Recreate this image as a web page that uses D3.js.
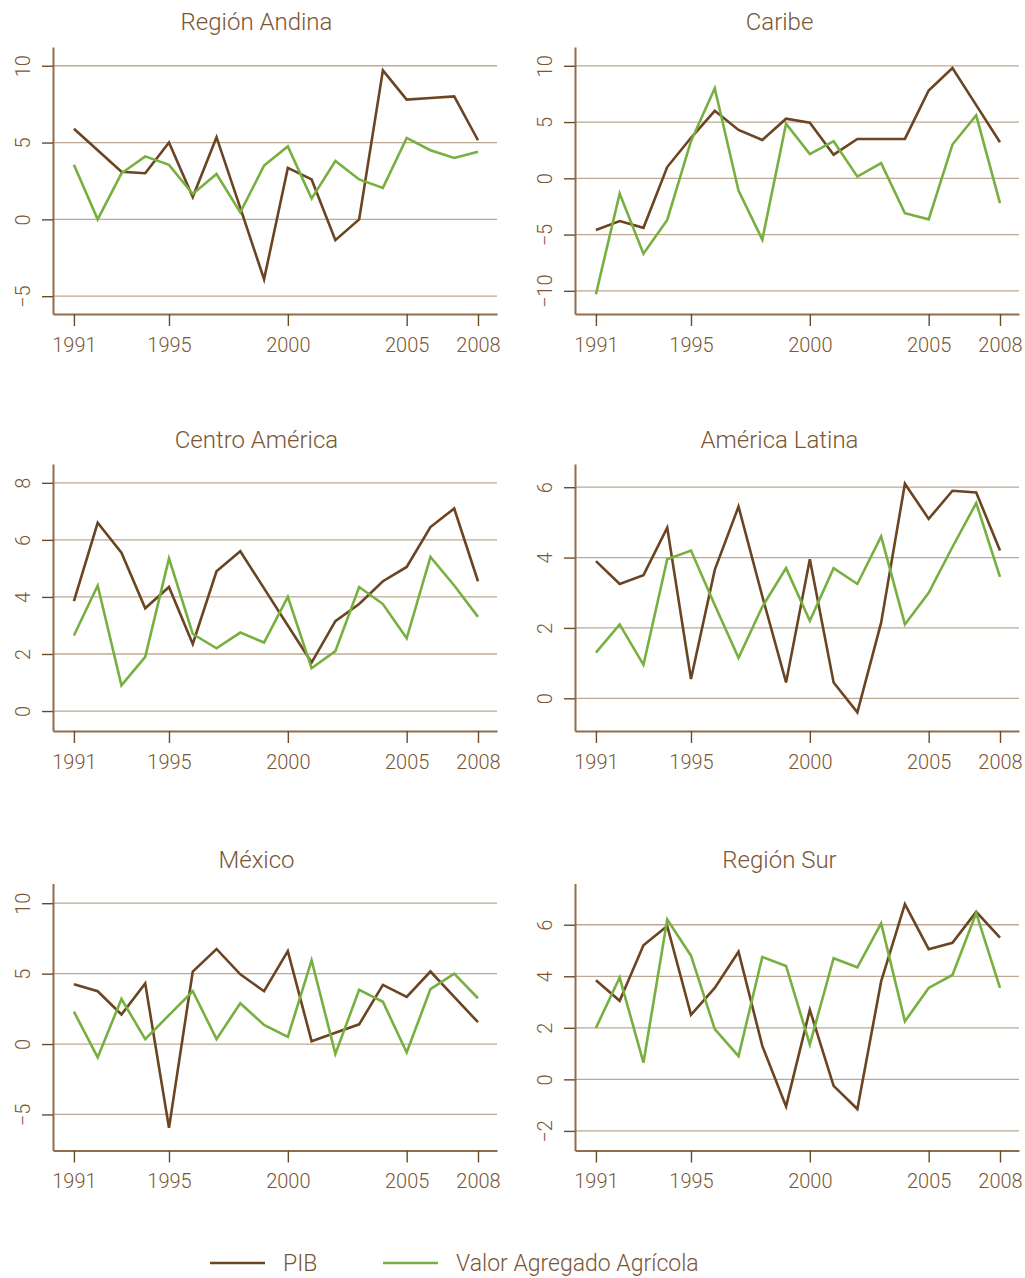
<!DOCTYPE html>
<meta charset="utf-8">
<head>
  <title>PIB y Valor Agregado Agrícola</title>
</head>

<style>
body {
  margin: 0;
  background: #fff;
}

text {
  font-family: Roboto, "Helvetica Neue", Helvetica, sans-serif;
  font-weight: 300;
  fill: #7a5634;
}

.grid {
  stroke: #bca893;
  stroke-width: 1.3px;
}

.line {
  fill: none;
  stroke-width: 2.6px;
  stroke-linejoin: miter;
}
</style>

<body>
  <svg id="chart" width="1025" height="1278"></svg>

<script src="https://cdnjs.cloudflare.com/ajax/libs/d3/7.8.5/d3.min.js"></script>

<script>
// years on the x axis
var years = [1991, 1992, 1993, 1994, 1995, 1996, 1997, 1998, 1999,
             2000, 2001, 2002, 2003, 2004, 2005, 2006, 2007, 2008];
var yearTicks = [1991, 1995, 2000, 2005, 2008];

var seriesNames = ["PIB", "Valor Agregado Agrícola"];
var seriesColors = ["#6b4422", "#77b041"];

// growth rates (%)
var andinaPib = [5.9, 4.5, 3.1, 3.0, 5.0, 1.45, 5.35, 0.75, -3.9, 3.35, 2.6, -1.35, 0.0, 9.7, 7.8, 7.9, 8.0, 5.15];
var andinaAgr = [3.55, 0.0, 3.0, 4.1, 3.55, 1.65, 2.95, 0.45, 3.5, 4.75, 1.35, 3.8, 2.6, 2.05, 5.3, 4.5, 4.0, 4.4];

var caribePib = [-4.6, -3.8, -4.4, 1.0, 3.6, 6.0, 4.3, 3.4, 5.3, 4.95, 2.1, 3.5, 3.5, 3.5, 7.8, 9.8, 6.5, 3.2];
var caribeAgr = [-10.3, -1.35, -6.7, -3.7, 3.3, 8.0, -1.1, -5.45, 4.85, 2.15, 3.3, 0.15, 1.35, -3.1, -3.65, 3.0, 5.6, -2.2];

var centroPib = [3.85, 6.6, 5.55, 3.6, 4.35, 2.35, 4.9, 5.6, 4.3, 3.0, 1.7, 3.15, 3.75, 4.55, 5.05, 6.45, 7.1, 4.55];
var centroAgr = [2.65, 4.4, 0.9, 1.9, 5.35, 2.7, 2.2, 2.75, 2.4, 4.0, 1.5, 2.1, 4.35, 3.75, 2.55, 5.4, 4.4, 3.3];

var latinaPib = [3.9, 3.25, 3.5, 4.85, 0.55, 3.65, 5.45, 2.9, 0.45, 3.95, 0.45, -0.4, 2.15, 6.1, 5.1, 5.9, 5.85, 4.2];
var latinaAgr = [1.3, 2.1, 0.95, 3.95, 4.2, 2.65, 1.15, 2.6, 3.7, 2.2, 3.7, 3.25, 4.6, 2.1, 3.0, 4.3, 5.55, 3.45];

var mexicoPib = [4.25, 3.75, 2.1, 4.3, -5.95, 5.15, 6.75, 4.95, 3.75, 6.6, 0.2, 0.8, 1.4, 4.2, 3.35, 5.15, 3.35, 1.55];
var mexicoAgr = [2.3, -0.95, 3.2, 0.35, 2.05, 3.75, 0.35, 2.9, 1.35, 0.5, 5.95, -0.7, 3.85, 3.0, -0.6, 3.9, 5.0, 3.25];

var surPib = [3.85, 3.05, 5.2, 5.95, 2.5, 3.55, 4.95, 1.3, -1.05, 2.7, -0.25, -1.15, 3.8, 6.8, 5.05, 5.3, 6.5, 5.5];
var surAgr = [2.0, 3.95, 0.65, 6.2, 4.8, 1.95, 0.9, 4.75, 4.4, 1.35, 4.7, 4.35, 6.05, 2.25, 3.55, 4.05, 6.45, 3.55];

// panel titles and y tick labels
var titles = ["Región Andina", "Caribe", "Centro América", "América Latina", "México", "Región Sur"];
var yTickSets = [
  [-5, 0, 5, 10],
  [-10, -5, 0, 5, 10],
  [0, 2, 4, 6, 8],
  [0, 2, 4, 6],
  [-5, 0, 5, 10],
  [-2, 0, 2, 4, 6]
];
var yRanges = [[-6.16, 11.22], [-12.06, 11.67], [-0.7, 8.66], [-0.93, 6.66], [-7.56, 11.4], [-2.76, 7.6]];

var panels = [
  {pib: andinaPib, agr: andinaAgr},
  {pib: caribePib, agr: caribeAgr},
  {pib: centroPib, agr: centroAgr},
  {pib: latinaPib, agr: latinaAgr},
  {pib: mexicoPib, agr: mexicoAgr},
  {pib: surPib, agr: surAgr}
];

var svg = d3.select("#chart");
svg.append("rect").attr("width", 1025).attr("height", 1278).attr("fill", "#fff");

var colLeft = [53, 575],
    rowTop = [47, 464, 883.5],
    titleBase = [30, 448, 867.5],
    titleCenter = [256.5, 779.5],
    width = 444,
    height = 267;

panels.forEach(function(p, i) {
  var col = i % 2,
      row = Math.floor(i / 2);

  var g = svg.append("g")
      .attr("transform", "translate(" + colLeft[col] + "," + rowTop[row] + ")");

  var x = d3.scaleLinear().domain([1990.12, 2008.8]).range([0, width]);
  var y = d3.scaleLinear().domain(yRanges[i]).range([height, 0]);

  // horizontal reference lines
  g.selectAll(".grid")
      .data(yTickSets[i])
    .enter().append("line")
      .attr("class", "grid")
      .attr("x1", 0)
      .attr("x2", width)
      .attr("y1", function(d) { return y(d); })
      .attr("y2", function(d) { return y(d); });

  // y axis, labels turned like R
  var yAxis = d3.axisLeft(y).tickValues(yTickSets[i]).tickSize(11).tickSizeOuter(0);
  var ya = g.append("g").attr("class", "y axis").call(yAxis);
  ya.selectAll("text")
      .attr("x", null)
      .attr("dy", null)
      .attr("text-anchor", "middle")
      .attr("transform", "translate(-23,0) rotate(-90)")
      .style("font-size", "20px")
      .style("font-family", null);

  // x axis
  var xAxis = d3.axisBottom(x).tickValues(yearTicks).tickFormat(d3.format("d")).tickSize(12).tickSizeOuter(0);
  var xa = g.append("g")
      .attr("class", "x axis")
      .attr("transform", "translate(0," + height + ")")
      .call(xAxis);
  xa.selectAll("text")
      .attr("y", 37.5)
      .attr("dy", null)
      .style("font-size", "20px")
      .style("font-family", null);

  g.selectAll(".domain").attr("stroke", "#8f6e4e").attr("stroke-width", 2);
  g.selectAll(".tick line").attr("stroke", "#6b4a2a").attr("stroke-width", 1.4);
  g.selectAll(".axis").attr("font-family", null);

  // the two series
  [p.pib, p.agr].forEach(function(vals, s) {
    var line = d3.line()
        .x(function(d, k) { return x(years[k]); })
        .y(function(d) { return y(d); });
    g.append("path")
        .datum(vals)
        .attr("class", "line")
        .attr("stroke", seriesColors[s])
        .attr("d", line);
  });

  svg.append("text")
      .attr("x", titleCenter[col])
      .attr("y", titleBase[row])
      .attr("text-anchor", "middle")
      .style("font-size", "24px")
      .text(titles[i]);
});

// legend (kept just above the bottom edge so descenders stay visible)
var legendX = [210, 383];
seriesNames.forEach(function(name, s) {
  svg.append("line")
      .attr("x1", legendX[s])
      .attr("x2", legendX[s] + 55)
      .attr("y1", 1263)
      .attr("y2", 1263)
      .attr("stroke", seriesColors[s])
      .attr("stroke-width", 2.6);
  svg.append("text")
      .attr("x", legendX[s] + 73)
      .attr("y", 1271)
      .style("font-size", "23px")
      .text(name);
});
</script>
</body>
</html>
